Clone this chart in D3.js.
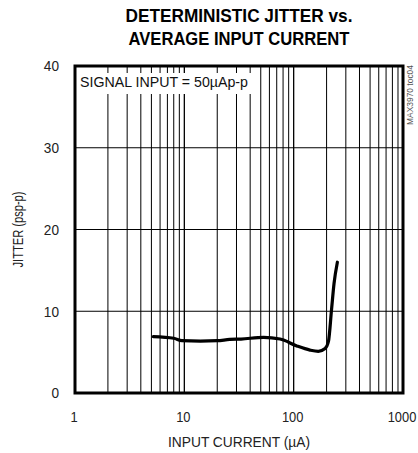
<!DOCTYPE html>
<html>
<head>
<meta charset="utf-8">
<script src="https://cdn.jsdelivr.net/npm/d3@7"></script>
<style>
  html, body { margin: 0; padding: 0; background: #fff; }
  svg { display: block; }
  text { font-family: "Liberation Sans Narrow", "Arial Narrow", "Liberation Sans", sans-serif; }
</style>
</head>
<body>
<svg id="chart" width="418" height="453"></svg>
<script>
// ---- data ----
const titleLines = ["DETERMINISTIC JITTER vs.", "AVERAGE INPUT CURRENT"];
const xTickValues = [1, 10, 100, 1000];
const xTickLabels = ["1", "10", "100", "1000"];
const yTickValues = [0, 10, 20, 30, 40];
const yTickLabels = ["0", "10", "20", "30", "40"];
const currentUA = [5.2, 8, 9.5, 14, 20, 26, 33, 53, 75, 107, 141, 168, 194, 208, 222, 234, 251];
const jitterPsPP = [6.9, 6.7, 6.4, 6.35, 6.4, 6.55, 6.6, 6.8, 6.6, 5.75, 5.25, 5.1, 5.45, 6.3, 10.2, 13.4, 16.0];
const xAxisTitle = "INPUT CURRENT (\u00B5A)";
const yAxisTitle = "JITTER (psp-p)";
const annotation = "SIGNAL INPUT = 50\u00B5Ap-p";
const watermark = "MAX3970 toc04";

// ---- layout ----
const L = 75, R = 403, T = 66, B = 393;
const svg = d3.select("#chart");
const x = d3.scaleLog().domain([1, 1000]).range([L, R]);
const y = d3.scaleLinear().domain([0, 40]).range([B, T]);

// minor vertical grid
const minor = [];
for (let d = 1; d <= 100; d *= 10) for (let k = 2; k <= 9; k++) minor.push(d * k);
svg.append("g").selectAll("line").data(minor).join("line")
  .attr("x1", d => x(d)).attr("x2", d => x(d))
  .attr("y1", T).attr("y2", B)
  .attr("stroke", "#000").attr("stroke-width", 1);
svg.append("g").selectAll("line").data([10, 100]).join("line")
  .attr("x1", d => x(d)).attr("x2", d => x(d))
  .attr("y1", T).attr("y2", B)
  .attr("stroke", "#000").attr("stroke-width", 1.3);
svg.append("g").selectAll("line").data([10, 20, 30]).join("line")
  .attr("x1", L).attr("x2", R)
  .attr("y1", d => y(d)).attr("y2", d => y(d))
  .attr("stroke", "#000").attr("stroke-width", 1);

// annotation box (white background)
svg.append("rect").attr("x", 77).attr("y", 73).attr("width", 176).attr("height", 21).attr("fill", "#fff");
svg.append("text").attr("x", 80).attr("y", 87)
  .attr("font-size", 15).attr("fill", "#111").text(annotation)
  .attr("textLength", 168).attr("lengthAdjust", "spacingAndGlyphs");

// frame
svg.append("rect").attr("x", L).attr("y", T).attr("width", R - L).attr("height", B - T)
  .attr("fill", "none").attr("stroke", "#000").attr("stroke-width", 3);

// curve
const pts = currentUA.map((c, i) => [c, jitterPsPP[i]]);
svg.append("path").datum(pts)
  .attr("d", d3.line().x(d => x(d[0])).y(d => y(d[1])).curve(d3.curveMonotoneX))
  .attr("fill", "none").attr("stroke", "#000").attr("stroke-width", 3.2).attr("stroke-linecap", "round");

// axes (labels only)
const xAxis = d3.axisBottom(x).tickValues(xTickValues).tickFormat((d, i) => xTickLabels[i]).tickSize(0).tickPadding(10);
const gx = svg.append("g").attr("transform", `translate(0,${B + 8})`).call(xAxis);
gx.select(".domain").remove();
gx.selectAll("text").attr("font-size", 15).attr("fill", "#222")
  .attr("transform", "translate(-1.5,0) scale(0.86,1)")
  .style("font-family", '"Liberation Sans Narrow", "Arial Narrow", "Liberation Sans", sans-serif');

const yAxis = d3.axisLeft(y).tickValues(yTickValues).tickFormat((d, i) => yTickLabels[i]).tickSize(0).tickPadding(16);
const gy = svg.append("g").attr("transform", `translate(${L - 16},0)`).call(yAxis.tickPadding(0));
gy.select(".domain").remove();
gy.selectAll("text").attr("font-size", 15.5).attr("fill", "#222")
  .attr("transform", "scale(0.88,1)")
  .style("font-family", '"Liberation Sans Narrow", "Arial Narrow", "Liberation Sans", sans-serif');

// titles
const titleWidths = [227, 221];
svg.append("g").selectAll("text").data(titleLines).join("text")
  .attr("x", 239).attr("y", (d, i) => 22 + i * 23)
  .attr("text-anchor", "middle").attr("font-size", 19).attr("font-weight", "bold")
  .attr("fill", "#000").text(d => d)
  .attr("textLength", (d, i) => titleWidths[i]).attr("lengthAdjust", "spacingAndGlyphs");

svg.append("text").attr("x", 239).attr("y", 447).attr("text-anchor", "middle")
  .attr("font-size", 15).attr("fill", "#222").text(xAxisTitle)
  .attr("textLength", 142).attr("lengthAdjust", "spacingAndGlyphs");

svg.append("text").attr("transform", `translate(23,${(T + B) / 2}) rotate(-90)`)
  .attr("text-anchor", "middle").attr("font-size", 14).attr("fill", "#222").text(yAxisTitle)
  .attr("textLength", 76).attr("lengthAdjust", "spacingAndGlyphs");

svg.append("text").attr("transform", `translate(413,65) rotate(-90)`)
  .attr("text-anchor", "end").attr("font-size", 9).attr("fill", "#555").text(watermark)
  .attr("textLength", 60).attr("lengthAdjust", "spacingAndGlyphs");
</script>
</body>
</html>
